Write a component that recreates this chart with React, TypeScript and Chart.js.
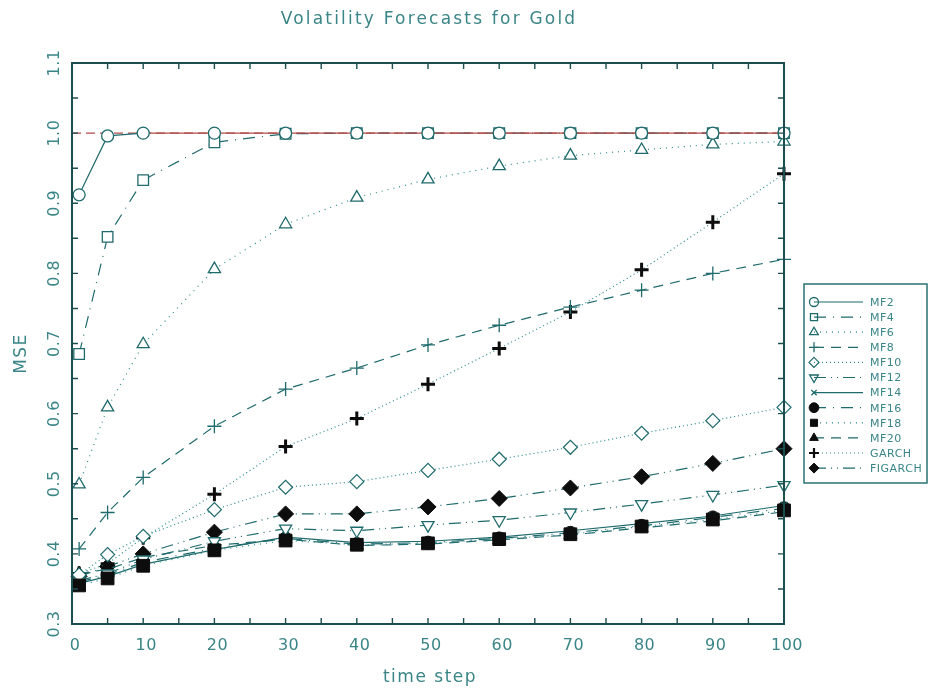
import React, { useEffect, useRef } from "react";
import { Chart, registerables } from "chart.js";

Chart.register(...registerables);

// ---------------- data ----------------
const TIME_STEPS = [1, 5, 10, 20, 30, 40, 50, 60, 70, 80, 90, 100];

const MF2 = [0.912, 0.996, 1.0, 1.0, 1.0, 1.0, 1.0, 1.0, 1.0, 1.0, 1.0, 1.0];
const MF4 = [0.685, 0.852, 0.933, 0.987, 0.999, 1.0, 1.0, 1.0, 1.0, 1.0, 1.0, 1.0];
const MF6 = [0.499, 0.609, 0.699, 0.806, 0.87, 0.908, 0.934, 0.953, 0.968, 0.976, 0.984, 0.988];
const MF8 = [0.407, 0.459, 0.509, 0.582, 0.635, 0.665, 0.698, 0.726, 0.752, 0.776, 0.8, 0.82];
const MF10 = [0.37, 0.399, 0.425, 0.463, 0.495, 0.503, 0.519, 0.535, 0.552, 0.572, 0.59, 0.609];
const MF12 = [0.362, 0.372, 0.392, 0.418, 0.436, 0.433, 0.441, 0.448, 0.459, 0.471, 0.484, 0.498];
const MF14 = [0.358, 0.368, 0.385, 0.406, 0.424, 0.416, 0.418, 0.424, 0.433, 0.443, 0.454, 0.469];
const MF16 = [0.36, 0.37, 0.388, 0.408, 0.422, 0.414, 0.416, 0.422, 0.43, 0.44, 0.452, 0.465];
const MF18 = [0.355, 0.365, 0.383, 0.405, 0.419, 0.413, 0.415, 0.421, 0.428, 0.439, 0.449, 0.462];
const MF20 = [0.372, 0.378, 0.395, 0.412, 0.421, 0.412, 0.414, 0.42, 0.427, 0.437, 0.447, 0.46];
const GARCH = [0.372, 0.386, 0.423, 0.485, 0.553, 0.593, 0.642, 0.693, 0.745, 0.805, 0.873, 0.942];
const FIGARCH = [0.368, 0.382, 0.4, 0.431, 0.457, 0.457, 0.467, 0.479, 0.494, 0.51, 0.529, 0.55];

const SERIES_NAMES = ["MF2", "MF4", "MF6", "MF8", "MF10", "MF12", "MF14", "MF16", "MF18", "MF20", "GARCH", "FIGARCH"];
const SERIES_VALUES = [MF2, MF4, MF6, MF8, MF10, MF12, MF14, MF16, MF18, MF20, GARCH, FIGARCH];

const REF_X = [0, 100];
const REF_Y = [1.0, 1.0];

const X_TICK_LABELS = ["0", "10", "20", "30", "40", "50", "60", "70", "80", "90", "100"];
const Y_TICK_LABELS = ["0.3", "0.4", "0.5", "0.6", "0.7", "0.8", "0.9", "1.0", "1.1"];

const TITLE = "Volatility Forecasts for Gold";
const X_TITLE = "time step";
const Y_TITLE = "MSE";

// ---------------- styles ----------------
const TEAL = "#2a8a8c";
const TEAL_DARK = "#1f6a6c";
const BLACK = "#0d0d0d";
const RED = "#b04c4a";
const TEXT = "#3a8587";
const AXIS = "#1c4e50";
const FONT = '"DejaVu Sans", "Liberation Sans", sans-serif';

type Style = {
  marker: string;
  radius: number;
  rotation?: number;
  filled: boolean;
  dash: number[];
  line: string;
  markerColor: string;
  markerWidth: number;
};

const DASH_DOT = [12, 7, 1, 7];
const DASH_DOT_DOT = [12, 5, 1, 5, 1, 5];
const DOTTED = [1, 5];
const DENSE_DOT = [1, 3];
const DASHED = [10, 7];

const STYLES: Style[] = [
  { marker: "circle", radius: 6, filled: false, dash: [], line: TEAL_DARK, markerColor: TEAL_DARK, markerWidth: 1.3 },
  { marker: "rect", radius: 7.5, filled: false, dash: DASH_DOT, line: TEAL_DARK, markerColor: TEAL_DARK, markerWidth: 1.3 },
  { marker: "triangle", radius: 7, filled: false, dash: DOTTED, line: TEAL, markerColor: TEAL_DARK, markerWidth: 1.3 },
  { marker: "cross", radius: 7, filled: false, dash: DASHED, line: TEAL_DARK, markerColor: TEAL_DARK, markerWidth: 1.3 },
  { marker: "rectRot", radius: 7, filled: false, dash: DENSE_DOT, line: TEAL, markerColor: TEAL_DARK, markerWidth: 1.2 },
  { marker: "triangle", rotation: 180, radius: 7, filled: false, dash: DASH_DOT_DOT, line: TEAL_DARK, markerColor: TEAL_DARK, markerWidth: 1.3 },
  { marker: "crossRot", radius: 5, filled: false, dash: [], line: TEAL_DARK, markerColor: TEAL_DARK, markerWidth: 1.3 },
  { marker: "circle", radius: 6.5, filled: true, dash: DASH_DOT, line: TEAL_DARK, markerColor: BLACK, markerWidth: 1 },
  { marker: "rect", radius: 9, filled: true, dash: DOTTED, line: TEAL, markerColor: BLACK, markerWidth: 1 },
  { marker: "triangle", radius: 7.5, filled: true, dash: DASHED, line: TEAL_DARK, markerColor: BLACK, markerWidth: 1 },
  { marker: "cross", radius: 7, filled: false, dash: DENSE_DOT, line: TEAL, markerColor: BLACK, markerWidth: 3 },
  { marker: "rectRot", radius: 8, filled: true, dash: DASH_DOT_DOT, line: TEAL_DARK, markerColor: BLACK, markerWidth: 1 },
];

function drawMarker(ctx: CanvasRenderingContext2D, s: Style, x: number, y: number, r: number) {
  ctx.save();
  ctx.setLineDash([]);
  ctx.strokeStyle = s.markerColor;
  ctx.fillStyle = s.filled ? s.markerColor : "#ffffff";
  ctx.lineWidth = Math.min(s.markerWidth, 2.2);
  ctx.beginPath();
  const rot = ((s.rotation || 0) * Math.PI) / 180;
  switch (s.marker) {
    case "circle":
      ctx.arc(x, y, r, 0, Math.PI * 2);
      break;
    case "rect": {
      const h = r * Math.SQRT1_2;
      ctx.rect(x - h, y - h, 2 * h, 2 * h);
      break;
    }
    case "rectRot":
      ctx.moveTo(x, y - r);
      ctx.lineTo(x + r, y);
      ctx.lineTo(x, y + r);
      ctx.lineTo(x - r, y);
      ctx.closePath();
      break;
    case "triangle":
      for (let k = 0; k < 3; k++) {
        const a = rot + (k * 2 * Math.PI) / 3;
        const px = x + Math.sin(a) * r;
        const py = y - Math.cos(a) * r;
        if (k === 0) ctx.moveTo(px, py);
        else ctx.lineTo(px, py);
      }
      ctx.closePath();
      break;
    case "cross":
      ctx.moveTo(x - r, y);
      ctx.lineTo(x + r, y);
      ctx.moveTo(x, y - r);
      ctx.lineTo(x, y + r);
      break;
    case "crossRot": {
      const d = r * Math.SQRT1_2;
      ctx.moveTo(x - d, y - d);
      ctx.lineTo(x + d, y + d);
      ctx.moveTo(x - d, y + d);
      ctx.lineTo(x + d, y - d);
      break;
    }
  }
  if (s.marker !== "cross" && s.marker !== "crossRot") {
    if (s.filled) ctx.fill();
  }
  ctx.stroke();
  ctx.restore();
}

const decorPlugin = {
  id: "decor",
  afterDraw(chart: any) {
    const { ctx, chartArea: a } = chart;
    const xs = chart.scales.x;
    const ys = chart.scales.y;
    ctx.save();

    // frame
    ctx.strokeStyle = AXIS;
    ctx.lineWidth = 2;
    ctx.setLineDash([]);
    ctx.strokeRect(a.left, a.top, a.right - a.left, a.bottom - a.top);

    // inward tick marks
    ctx.lineWidth = 1.4;
    ctx.beginPath();
    for (let v = 0; v <= 100; v += 5) {
      const px = xs.getPixelForValue(v);
      ctx.moveTo(px, a.bottom);
      ctx.lineTo(px, a.bottom - 6);
      ctx.moveTo(px, a.top);
      ctx.lineTo(px, a.top + 6);
    }
    for (let k = 0; k <= 16; k++) {
      const py = ys.getPixelForValue(0.3 + k * 0.05);
      ctx.moveTo(a.left, py);
      ctx.lineTo(a.left + 6, py);
      ctx.moveTo(a.right, py);
      ctx.lineTo(a.right - 6, py);
    }
    ctx.stroke();

    // tick labels
    ctx.fillStyle = TEXT;
    ctx.font = `16px ${FONT}`;
    (ctx as any).letterSpacing = "0.5px";
    ctx.textAlign = "center";
    ctx.textBaseline = "middle";
    X_TICK_LABELS.forEach((lab) => {
      const px = xs.getPixelForValue(parseFloat(lab));
      ctx.fillText(lab, px + 3, a.bottom + 22);
    });
    Y_TICK_LABELS.forEach((lab) => {
      const py = ys.getPixelForValue(parseFloat(lab));
      ctx.save();
      ctx.translate(a.left - 17, py);
      ctx.rotate(-Math.PI / 2);
      ctx.fillText(lab, 0, 0);
      ctx.restore();
    });

    // titles
    ctx.font = `17px ${FONT}`;
    (ctx as any).letterSpacing = "2.2px";
    const cx = (a.left + a.right) / 2;
    ctx.fillText(TITLE, cx + 1, 20);
    (ctx as any).letterSpacing = "1.5px";
    ctx.fillText(X_TITLE, cx + 2, 678);
    ctx.save();
    ctx.translate(22, (a.top + a.bottom) / 2 + 10);
    ctx.rotate(-Math.PI / 2);
    ctx.fillText(Y_TITLE, 0, 0);
    ctx.restore();

    // legend
    const lx = 804, ly = 284, lw = 123, lh = 199;
    ctx.strokeStyle = "#2a7274";
    ctx.lineWidth = 1.5;
    ctx.strokeRect(lx, ly, lw, lh);
    ctx.font = `11px ${FONT}`;
    (ctx as any).letterSpacing = "0.5px";
    ctx.textAlign = "left";
    SERIES_NAMES.forEach((name, i) => {
      const s = STYLES[i];
      const y = ly + 18 + i * 15.1;
      ctx.save();
      ctx.strokeStyle = s.line;
      ctx.lineWidth = 1.2;
      ctx.setLineDash(s.dash);
      ctx.beginPath();
      ctx.moveTo(814, y);
      ctx.lineTo(863, y);
      ctx.stroke();
      ctx.restore();
      drawMarker(ctx, s, 814, y, Math.min(5, s.radius * 0.75));
      ctx.fillStyle = TEXT;
      ctx.fillText(name, 870, y + 1);
    });

    ctx.restore();
  },
};

export default function App() {
  const ref = useRef<HTMLCanvasElement | null>(null);

  useEffect(() => {
    document.body.style.margin = "0";
    const canvas = ref.current;
    if (!canvas) return;

    const datasets: any[] = SERIES_NAMES.map((name, i) => {
      const s = STYLES[i];
      const ds: any = {
        label: name,
        data: TIME_STEPS.map((t, k) => ({ x: t, y: SERIES_VALUES[i][k] })),
        borderColor: s.line,
        borderWidth: 1.2,
        borderDash: s.dash,
        pointStyle: s.marker,
        pointRotation: s.rotation || 0,
        pointRadius: s.radius,
        pointBorderColor: s.markerColor,
        pointBackgroundColor: s.filled ? s.markerColor : "#ffffff",
        pointBorderWidth: s.markerWidth,
        fill: false,
        tension: 0,
        clip: false,
        order: name === "MF18" ? -1 : i,
      };
      if (name === "MF2") {
        ds.segment = {
          borderColor: (c: any) => (c.p0.parsed.y >= 0.999 && c.p1.parsed.y >= 0.999 ? RED : TEAL_DARK),
        };
      }
      return ds;
    });

    datasets.push({
      label: "reference",
      data: REF_X.map((x, k) => ({ x, y: REF_Y[k] })),
      borderColor: RED,
      borderWidth: 1.2,
      borderDash: [9, 5],
      pointRadius: 0,
      fill: false,
      order: 100,
    });

    const chart = new Chart(canvas, {
      type: "line",
      data: { datasets },
      options: {
        responsive: false,
        animation: false,
        devicePixelRatio: 1,
        layout: { padding: { left: 72, top: 63, right: 144, bottom: 71 } },
        scales: {
          x: { type: "linear", min: 0, max: 100, display: false },
          y: { type: "linear", min: 0.3, max: 1.1, display: false },
        },
        plugins: {
          legend: { display: false },
          tooltip: { enabled: false },
          title: { display: false },
        },
        events: [],
      },
      plugins: [decorPlugin],
    });

    return () => chart.destroy();
  }, []);

  return (
    <div style={{ width: 928, height: 695, background: "#ffffff" }}>
      <canvas ref={ref} width={928} height={695} style={{ display: "block" }} />
    </div>
  );
}
